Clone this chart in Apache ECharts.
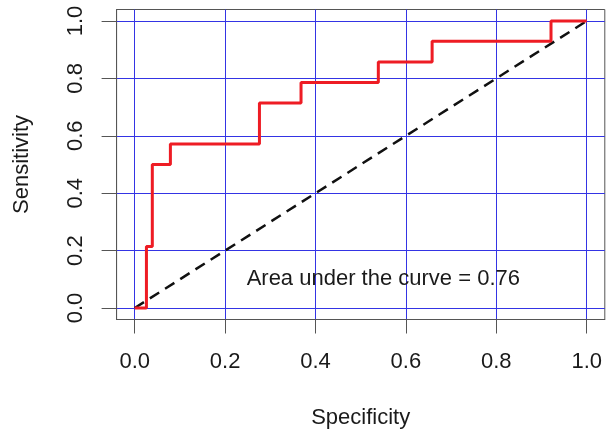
<!DOCTYPE html>
<html>
<head>
<meta charset="utf-8">
<script src="https://cdn.jsdelivr.net/npm/echarts@6/dist/echarts.min.js"></script>
<style>
  html, body { margin: 0; padding: 0; background: #fff; }
  #chart { width: 613px; height: 435px; }
</style>
</head>
<body>
<div id="chart"></div>
<script>
// ROC corner points (1 - specificity on x, sensitivity on y)
var fpr = [0, 0.026, 0.039, 0.079, 0.276, 0.368, 0.539, 0.658, 0.921, 1];
var tpr = [0, 0.214, 0.5, 0.571, 0.714, 0.786, 0.857, 0.929, 1, 1];
// chance line
var diagX = [0, 1];
var diagY = [0, 1];
// tick labels for both axes
var ticks = [0, 0.2, 0.4, 0.6, 0.8, 1.0];
var aucText = "Area under the curve = 0.76";
var aucAt = [0.55, 0.1];

var font = "'Liberation Sans', Arial, sans-serif";
var textColor = "#1a1a1a";
var gridBlue = "#3434e4";
var boxColor = "#555555";

function zip(a, b) {
  return a.map(function (v, i) { return [v, b[i]]; });
}

function axisCommon(name, isY) {
  return {
    type: "value",
    min: -0.04,
    max: 1.04,
    name: name,
    nameLocation: "middle",
    nameGap: isY ? 84 : 87,
    nameTextStyle: { fontFamily: font, fontSize: 22, color: textColor },
    axisLine: { show: true, onZero: false, lineStyle: { color: boxColor, width: 1 } },
    axisTick: {
      show: true,
      inside: false,
      length: isY ? 15 : 14,
      customValues: ticks,
      lineStyle: { color: boxColor, width: 1 },
    },
    axisLabel: {
      show: true,
      customValues: ticks,
      rotate: isY ? 90 : 0,
      margin: isY ? 30 : 31,
      fontFamily: font,
      fontSize: 22,
      color: textColor,
      formatter: function (v) { return v.toFixed(1); },
    },
    splitLine: { show: true, lineStyle: { color: gridBlue, width: 1 } },
  };
}

var chart = echarts.init(document.getElementById("chart"));
chart.setOption({
  backgroundColor: "#fff",
  animation: false,
  grid: {
    left: 116.6,
    top: 9.5,
    width: 488.2,
    height: 310,
    show: true,
    borderColor: boxColor,
    borderWidth: 1,
    backgroundColor: "transparent",
  },
  xAxis: axisCommon("Specificity", false),
  yAxis: axisCommon("Sensitivity", true),
  series: [
    {
      // dashed diagonal
      type: "line",
      data: zip(diagX, diagY),
      symbol: "none",
      lineStyle: { color: "#111", width: 2.5, type: [11, 7] },
      z: 3,
    },
    {
      // ROC curve
      type: "line",
      step: "end",
      data: zip(fpr, tpr),
      symbol: "none",
      lineStyle: { color: "#ee1c24", width: 3 },
      z: 4,
    },
    {
      // AUC annotation
      type: "scatter",
      data: [aucAt],
      symbolSize: 0,
      silent: true,
      itemStyle: { opacity: 1 },
      label: {
        show: true,
        position: "inside",
        formatter: aucText,
        fontFamily: font,
        fontSize: 22,
        color: textColor,
        opacity: 1,
        textBorderWidth: 0,
      },
      z: 5,
    },
  ],
});
</script>
</body>
</html>
